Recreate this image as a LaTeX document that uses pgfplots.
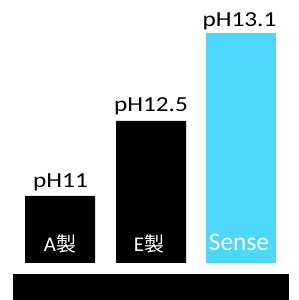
\documentclass[border=0pt]{standalone}
\usepackage{pgfplots}
\pgfplotsset{compat=1.18}
\usepackage{fontspec}
\setmainfont{Carlito}
\newfontfamily\cjk{Noto Sans CJK JP}
\definecolor{senseblue}{RGB}{79,214,251}
\begin{document}
\begin{tikzpicture}
\begin{axis}[
  width=299bp, height=300bp, scale only axis,
  xmin=0, xmax=299, ymin=-37, ymax=263,
  hide axis, clip=false,
]
\path (axis cs:0,-37) rectangle (axis cs:299,263);
\addplot[ybar, bar width=70, bar shift=0pt, fill=black, draw=none] coordinates {(60,67) (151,142)};
\addplot[ybar, bar width=70, bar shift=0pt, fill=senseblue, draw=none] coordinates {(241,230)};
\addplot[fill=black, draw=none] coordinates {(13,-37) (289,-37) (289,-11) (13,-11)} -- cycle;
\node[anchor=base] at (axis cs:60.5,76) {\fontsize{21.5}{24}\selectfont\scalebox{1.18}[1]{pH11}};
\node[anchor=base] at (axis cs:151,152) {\fontsize{21.5}{24}\selectfont\scalebox{1.18}[1]{pH12.5}};
\node[anchor=base] at (axis cs:239.5,237) {\fontsize{21.5}{24}\selectfont\scalebox{1.18}[1]{pH13.1}};
\node[anchor=base, text=white] at (axis cs:60,11.5) {\fontsize{21}{24}\selectfont A{\cjk\fontsize{20}{24}\selectfont 製}};
\node[anchor=base, text=white] at (axis cs:149,11.5) {\fontsize{21}{24}\selectfont E{\cjk\fontsize{20}{24}\selectfont 製}};
\node[anchor=base, text=white] at (axis cs:239,13) {\fontsize{25.5}{28}\selectfont Sense};
\end{axis}
\end{tikzpicture}
\end{document}
